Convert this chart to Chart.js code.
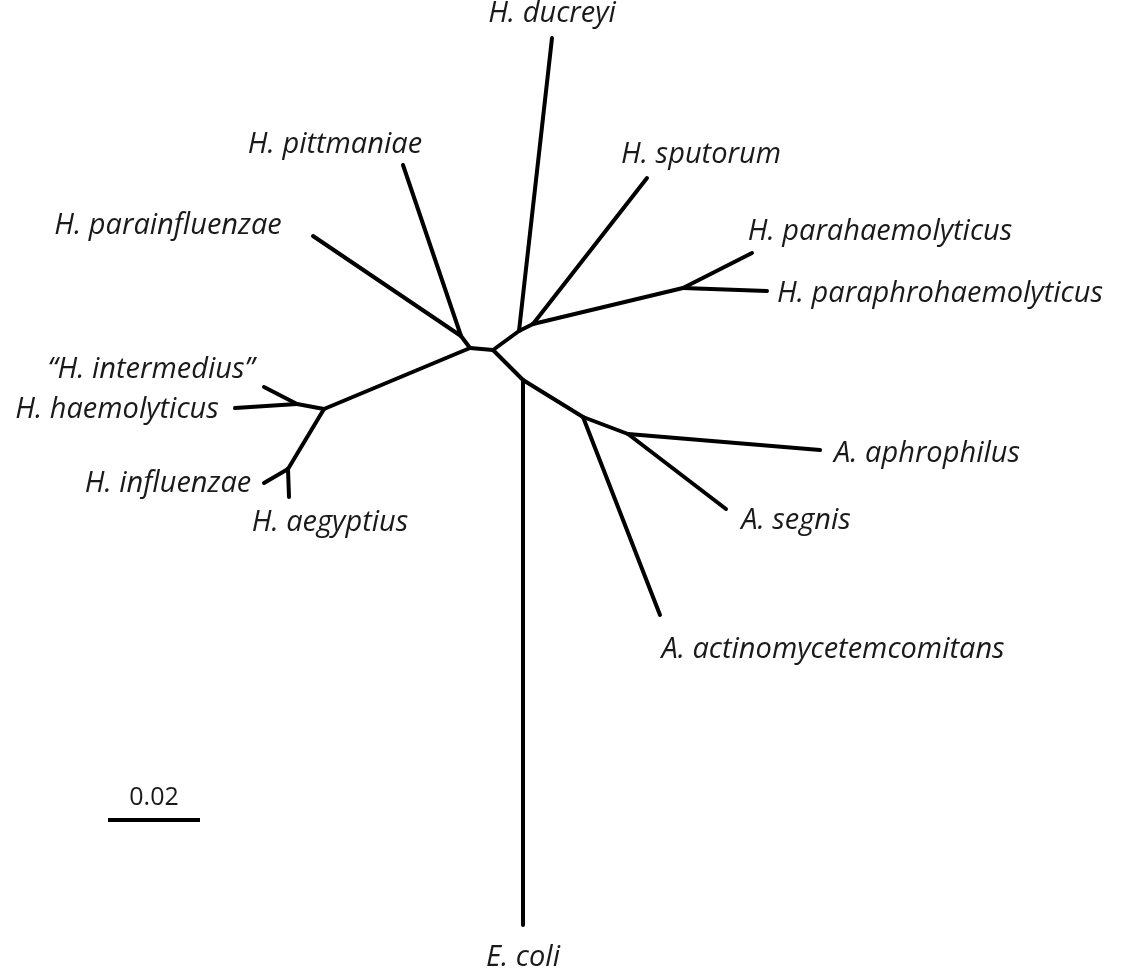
<!DOCTYPE html>
<html lang="en">
<head>
<meta charset="UTF-8">
<title>Unrooted tree</title>
<script src="https://cdn.jsdelivr.net/npm/chart.js"></script>
<style>
  body { margin: 0; background: #fff; }
  #tree { display: block; }
</style>
</head>
<body>
<canvas id="tree" width="1136" height="973"></canvas>
<script>
  // node positions (x, y in picture units, y down)
  const nodeIds = ['A','B','C','K','L','D','E','F','J','G','H','I',
    'ducreyi','pittmaniae','sputorum','parainfluenzae','parahaemolyticus','paraphrohaemolyticus',
    'intermedius','haemolyticus','influenzae','aegyptius','aphrophilus','segnis','actino','ecoli'];
  const nodeX = [470,493,519,533,683,461,523,583,628,324,297,288,
    552,403,647,313,752,767,264,235,264,289,820,726,660,523];
  const nodeY = [348,350,331,324,288,336,380,417,434,409,404,469,
    38,165,178,236,253,291,387,408,483,497,450,509,615,925];

  // branches: [from, to]
  const branches = [
    ['A','B'],['A','D'],['D','parainfluenzae'],['D','pittmaniae'],
    ['B','C'],['C','ducreyi'],['C','K'],['K','sputorum'],['K','L'],
    ['L','parahaemolyticus'],['L','paraphrohaemolyticus'],
    ['B','E'],['E','ecoli'],['E','F'],['F','actino'],['F','J'],
    ['J','aphrophilus'],['J','segnis'],
    ['A','G'],['G','H'],['H','haemolyticus'],['H','intermedius'],
    ['G','I'],['I','influenzae'],['I','aegyptius']
  ];

  // taxon labels and where they sit (centre of text)
  const taxonText = ['H. ducreyi','H. pittmaniae','H. sputorum','H. parainfluenzae',
    'H. parahaemolyticus','H. paraphrohaemolyticus','\u201CH. intermedius\u201D','H. haemolyticus',
    'H. influenzae','H. aegyptius','A. aphrophilus','A. segnis','A. actinomycetemcomitans','E. coli'];
  const taxonX = [552,335,701,168,880,940,151,117,168,330,927,796,833,523];
  const taxonY = [14,145,155,226,232,294,370,410,484,523,454,521,650,958];

  // scale bar
  const scaleBarX = [108,200];
  const scaleBarY = 820;
  const scaleBarText = '0.02';

  const pos = id => { const i = nodeIds.indexOf(id); return { x: nodeX[i], y: nodeY[i] }; };

  const datasets = branches.map(b => ({
    data: [pos(b[0]), pos(b[1])],
    showLine: true,
    borderColor: '#000',
    borderWidth: 4,
    borderCapStyle: 'round',
    pointRadius: 0
  }));
  datasets.push({
    data: [{ x: scaleBarX[0], y: scaleBarY }, { x: scaleBarX[1], y: scaleBarY }],
    showLine: true,
    borderColor: '#000',
    borderWidth: 4,
    pointRadius: 0
  });

  const labelPlugin = {
    id: 'taxa',
    afterDatasetsDraw(chart) {
      const ctx = chart.ctx, sx = chart.scales.x, sy = chart.scales.y;
      ctx.save();
      ctx.fillStyle = '#1a1a1a';
      ctx.textAlign = 'center';
      ctx.textBaseline = 'middle';
      ctx.font = 'italic 29px "Open Sans", sans-serif';
      taxonText.forEach((t, i) => {
        ctx.fillText(t, sx.getPixelForValue(taxonX[i]), sy.getPixelForValue(taxonY[i]));
      });
      ctx.font = '25px "Open Sans", sans-serif';
      ctx.fillText(scaleBarText, sx.getPixelForValue((scaleBarX[0] + scaleBarX[1]) / 2),
        sy.getPixelForValue(scaleBarY - 22));
      ctx.restore();
    }
  };

  new Chart(document.getElementById('tree'), {
    type: 'scatter',
    data: { datasets },
    options: {
      responsive: false,
      animation: false,
      layout: { padding: 0 },
      plugins: { legend: { display: false }, tooltip: { enabled: false } },
      scales: {
        x: { type: 'linear', min: 0, max: 1136, display: false },
        y: { type: 'linear', min: 0, max: 973, reverse: true, display: false }
      }
    },
    plugins: [labelPlugin]
  });
</script>
</body>
</html>
